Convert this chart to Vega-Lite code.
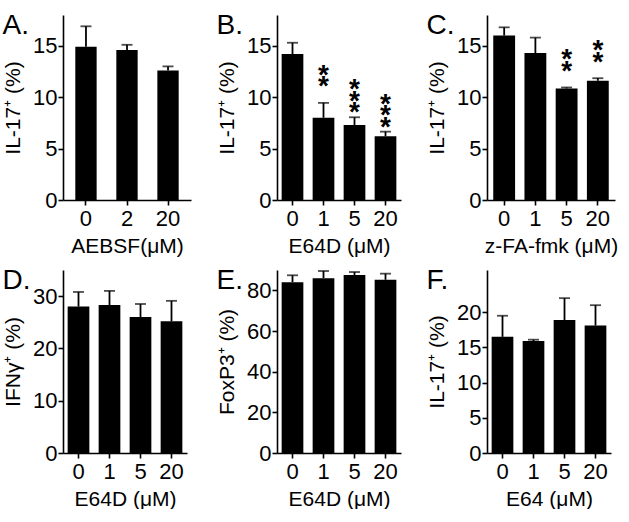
{
  "$schema": "https://vega.github.io/schema/vega-lite/v6.json",
  "background": "white",
  "padding": {"left": 2, "top": 12, "right": 0, "bottom": 0},
  "columns": 3,
  "spacing": {"row": 11, "column": 25},
  "config": {
    "font": "Liberation Sans",
    "view": {"stroke": null},
    "bar": {"color": "black"},
    "rule": {"color": "black"},
    "tick": {"color": "black"},
    "text": {"color": "black"},
    "axis": {
      "domainColor": "black", "domainWidth": 1.6,
      "tickColor": "black", "tickWidth": 1.6, "tickSize": 5,
      "labelFontSize": 22, "labelColor": "black", "labelPadding": 1,
      "titleFontSize": 21, "titleFontWeight": "normal", "titleColor": "black",
      "grid": false
    },
    "axisX": {"labelAngle": 0, "titlePadding": 6, "labelPadding": 3},
    "axisY": {"titlePadding": 9},
    "title": {"fontSize": 28, "fontWeight": "normal", "color": "black", "anchor": "start", "frame": "bounds", "offset": -25, "dx": 0}
  },
  "concat": [
    {
      "title": "A.",
      "width": 128, "height": 185,
      "data": {"values": [
        {"conc": "0", "mean": 14.9, "upper": 16.9, "sig": ""},
        {"conc": "2", "mean": 14.6, "upper": 15.1, "sig": ""},
        {"conc": "20", "mean": 12.6, "upper": 13.0, "sig": ""}
      ]},
      "encoding": {"x": {"field": "conc", "type": "nominal", "sort": null, "scale": {"paddingInner": 0.48, "paddingOuter": 0.3}, "axis": {"title": "AEBSF(μM)"}}},
      "layer": [
        {"mark": "bar", "encoding": {"y": {"field": "mean", "type": "quantitative", "scale": {"domain": [0, 18]}, "axis": {"values": [0, 5, 10, 15], "title": "IL-17⁺ (%)"}}}},
        {"mark": {"type": "rule", "strokeWidth": 1.8}, "encoding": {"y": {"field": "mean", "type": "quantitative"}, "y2": {"field": "upper"}}},
        {"mark": {"type": "tick", "thickness": 1.8, "size": 11}, "encoding": {"y": {"field": "upper", "type": "quantitative"}}}
      ]
    },
    {
      "title": "B.",
      "width": 124, "height": 185,
      "data": {"values": [
        {"conc": "0", "mean": 14.2, "upper": 15.3, "sig": ""},
        {"conc": "1", "mean": 8.0, "upper": 9.45, "sig": "*\n*"},
        {"conc": "5", "mean": 7.3, "upper": 8.05, "sig": "*\n*\n*"},
        {"conc": "20", "mean": 6.2, "upper": 6.65, "sig": "*\n*\n*"}
      ]},
      "encoding": {"x": {"field": "conc", "type": "nominal", "sort": null, "scale": {"paddingInner": 0.3, "paddingOuter": 0.15}, "axis": {"title": "E64D (μM)"}}},
      "layer": [
        {"mark": "bar", "encoding": {"y": {"field": "mean", "type": "quantitative", "scale": {"domain": [0, 18]}, "axis": {"values": [0, 5, 10, 15], "title": "IL-17⁺ (%)"}}}},
        {"mark": {"type": "rule", "strokeWidth": 1.8}, "encoding": {"y": {"field": "mean", "type": "quantitative"}, "y2": {"field": "upper"}}},
        {"mark": {"type": "tick", "thickness": 1.8, "size": 11}, "encoding": {"y": {"field": "upper", "type": "quantitative"}}},
        {"transform": [{"filter": "datum.sig != ''"}], "mark": {"type": "text", "lineBreak": "\n", "fontSize": 28, "fontWeight": "bold", "lineHeight": 11.5, "baseline": "bottom", "dy": -13}, "encoding": {"y": {"field": "upper", "type": "quantitative"}, "text": {"field": "sig"}}}
      ]
    },
    {
      "title": "C.",
      "width": 128, "height": 185,
      "data": {"values": [
        {"conc": "0", "mean": 16.0, "upper": 16.8, "sig": ""},
        {"conc": "1", "mean": 14.3, "upper": 15.8, "sig": ""},
        {"conc": "5", "mean": 10.85, "upper": 10.95, "sig": "*\n*"},
        {"conc": "20", "mean": 11.6, "upper": 11.85, "sig": "*\n*"}
      ]},
      "encoding": {"x": {"field": "conc", "type": "nominal", "sort": null, "scale": {"paddingInner": 0.3, "paddingOuter": 0.2}, "axis": {"title": "z-FA-fmk (μM)"}}},
      "layer": [
        {"mark": "bar", "encoding": {"y": {"field": "mean", "type": "quantitative", "scale": {"domain": [0, 18]}, "axis": {"values": [0, 5, 10, 15], "title": "IL-17⁺ (%)"}}}},
        {"mark": {"type": "rule", "strokeWidth": 1.8}, "encoding": {"y": {"field": "mean", "type": "quantitative"}, "y2": {"field": "upper"}}},
        {"mark": {"type": "tick", "thickness": 1.8, "size": 11}, "encoding": {"y": {"field": "upper", "type": "quantitative"}}},
        {"transform": [{"filter": "datum.sig != ''"}], "mark": {"type": "text", "lineBreak": "\n", "fontSize": 28, "fontWeight": "bold", "lineHeight": 11.5, "baseline": "bottom", "dy": -13}, "encoding": {"y": {"field": "upper", "type": "quantitative"}, "text": {"field": "sig"}}}
      ]
    },
    {
      "title": "D.",
      "width": 124, "height": 183,
      "data": {"values": [
        {"conc": "0", "mean": 28.0, "upper": 30.8},
        {"conc": "1", "mean": 28.3, "upper": 31.0},
        {"conc": "5", "mean": 26.0, "upper": 28.5},
        {"conc": "20", "mean": 25.2, "upper": 29.1}
      ]},
      "encoding": {"x": {"field": "conc", "type": "nominal", "sort": null, "scale": {"paddingInner": 0.3, "paddingOuter": 0.15}, "axis": {"title": "E64D (μM)"}}},
      "layer": [
        {"mark": "bar", "encoding": {"y": {"field": "mean", "type": "quantitative", "scale": {"domain": [0, 35]}, "axis": {"values": [0, 10, 20, 30], "title": "IFNγ⁺ (%)"}}}},
        {"mark": {"type": "rule", "strokeWidth": 1.8}, "encoding": {"y": {"field": "mean", "type": "quantitative"}, "y2": {"field": "upper"}}},
        {"mark": {"type": "tick", "thickness": 1.8, "size": 11}, "encoding": {"y": {"field": "upper", "type": "quantitative"}}}
      ]
    },
    {
      "title": "E.",
      "width": 124, "height": 183,
      "data": {"values": [
        {"conc": "0", "mean": 84.0, "upper": 87.4},
        {"conc": "1", "mean": 86.0, "upper": 89.5},
        {"conc": "5", "mean": 87.5, "upper": 89.0},
        {"conc": "20", "mean": 85.2, "upper": 88.2}
      ]},
      "encoding": {"x": {"field": "conc", "type": "nominal", "sort": null, "scale": {"paddingInner": 0.3, "paddingOuter": 0.15}, "axis": {"title": "E64D (μM)"}}},
      "layer": [
        {"mark": "bar", "encoding": {"y": {"field": "mean", "type": "quantitative", "scale": {"domain": [0, 90]}, "axis": {"values": [0, 20, 40, 60, 80], "title": "FoxP3⁺ (%)"}}}},
        {"mark": {"type": "rule", "strokeWidth": 1.8}, "encoding": {"y": {"field": "mean", "type": "quantitative"}, "y2": {"field": "upper"}}},
        {"mark": {"type": "tick", "thickness": 1.8, "size": 11}, "encoding": {"y": {"field": "upper", "type": "quantitative"}}}
      ]
    },
    {
      "title": "F.",
      "width": 124, "height": 183,
      "data": {"values": [
        {"conc": "0", "mean": 16.5, "upper": 19.5},
        {"conc": "1", "mean": 15.9, "upper": 16.1},
        {"conc": "5", "mean": 18.9, "upper": 22.0},
        {"conc": "20", "mean": 18.1, "upper": 21.0}
      ]},
      "encoding": {"x": {"field": "conc", "type": "nominal", "sort": null, "scale": {"paddingInner": 0.3, "paddingOuter": 0.15}, "axis": {"title": "E64 (μM)"}}},
      "layer": [
        {"mark": "bar", "encoding": {"y": {"field": "mean", "type": "quantitative", "scale": {"domain": [0, 25]}, "axis": {"values": [0, 5, 10, 15, 20], "title": "IL-17⁺ (%)"}}}},
        {"mark": {"type": "rule", "strokeWidth": 1.8}, "encoding": {"y": {"field": "mean", "type": "quantitative"}, "y2": {"field": "upper"}}},
        {"mark": {"type": "tick", "thickness": 1.8, "size": 11}, "encoding": {"y": {"field": "upper", "type": "quantitative"}}}
      ]
    }
  ]
}
